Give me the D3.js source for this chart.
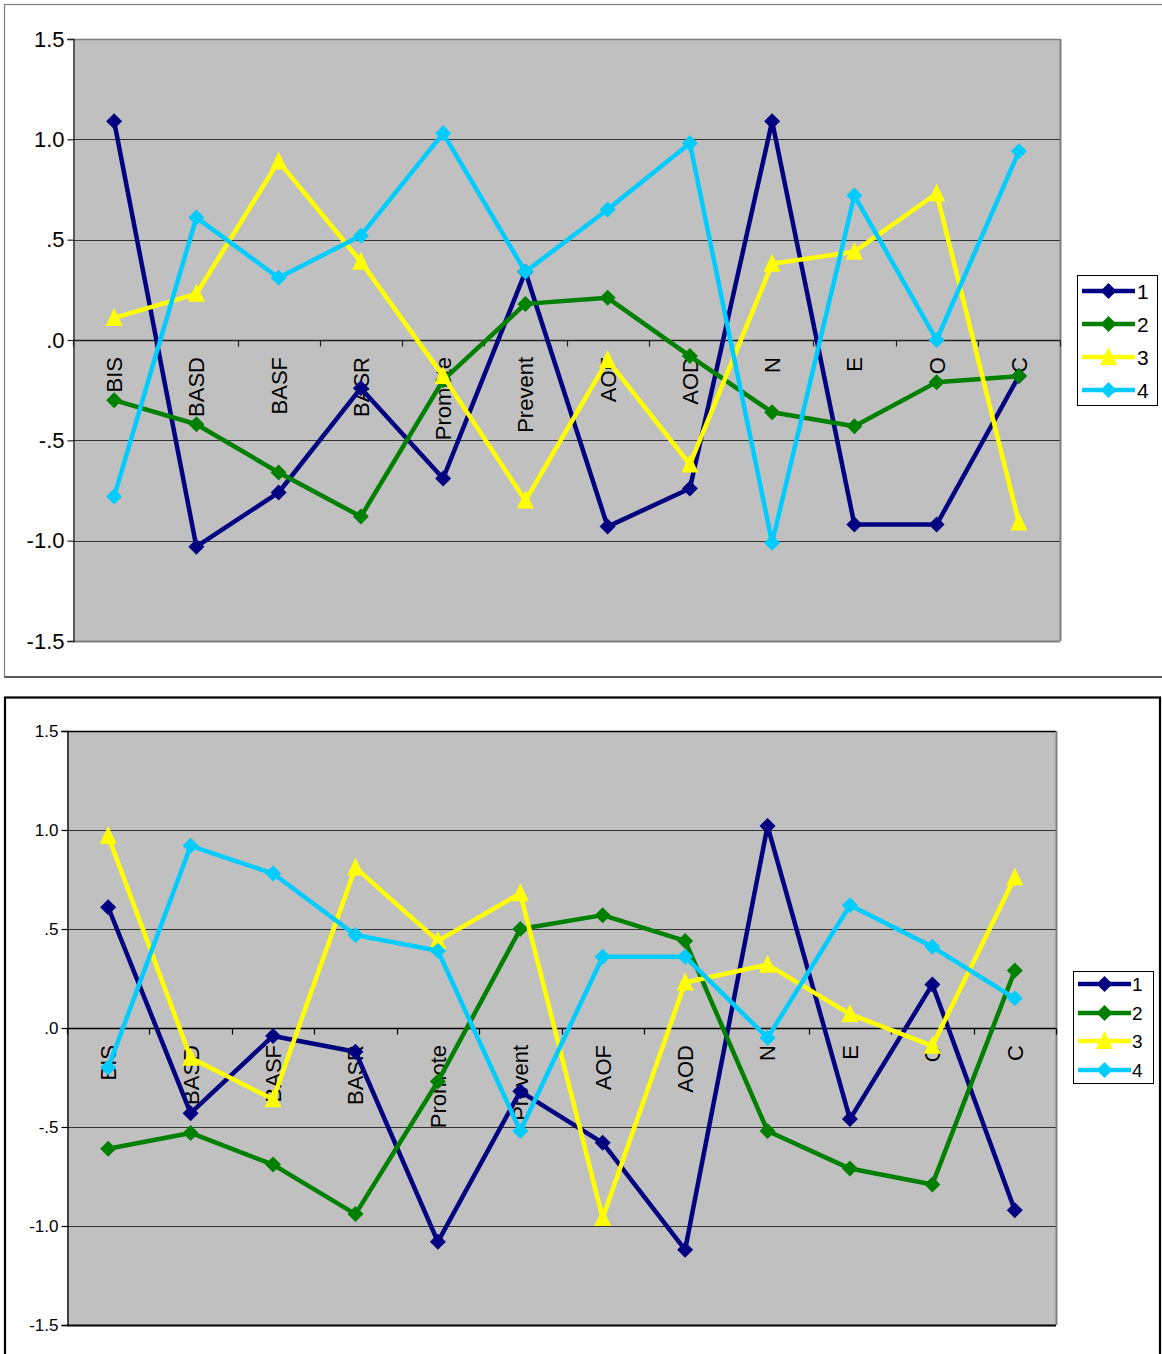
<!DOCTYPE html>
<html>
<head>
<meta charset="utf-8">
<script src="https://cdn.jsdelivr.net/npm/d3@7"></script>
<style>
  html, body { margin: 0; padding: 0; background: #ffffff; }
  svg { display: block; }
  text { font-family: "Liberation Sans", Arial, sans-serif; fill: #000; }
</style>
</head>
<body>
<svg id="page" width="1162" height="1354"></svg>
<script>
// Category axis and value axis
const categories = ["BIS", "BASD", "BASF", "BASR", "Promote", "Prevent", "AOF", "AOD", "N", "E", "O", "C"];
const yTickValues = [1.5, 1.0, 0.5, 0.0, -0.5, -1.0, -1.5];
const yTickLabels = ["1.5", "1.0", ".5", ".0", "-.5", "-1.0", "-1.5"];
const seriesNames = ["1", "2", "3", "4"];

// Upper chart profiles
const upperSeries1 = [1.09, -1.03, -0.76, -0.24, -0.69, 0.34, -0.93, -0.74, 1.09, -0.92, -0.92, -0.18];
const upperSeries2 = [-0.30, -0.42, -0.66, -0.88, -0.20, 0.18, 0.21, -0.08, -0.36, -0.43, -0.21, -0.18];
const upperSeries3 = [0.11, 0.23, 0.89, 0.39, -0.18, -0.80, -0.10, -0.62, 0.38, 0.44, 0.73, -0.91];
const upperSeries4 = [-0.78, 0.61, 0.31, 0.52, 1.03, 0.34, 0.65, 0.98, -1.01, 0.72, 0.00, 0.94];

// Lower chart profiles
const lowerSeries1 = [0.61, -0.43, -0.04, -0.12, -1.08, -0.32, -0.58, -1.12, 1.02, -0.46, 0.22, -0.92];
const lowerSeries2 = [-0.61, -0.53, -0.69, -0.94, -0.27, 0.50, 0.57, 0.44, -0.52, -0.71, -0.79, 0.29];
const lowerSeries3 = [0.97, -0.15, -0.36, 0.81, 0.44, 0.68, -0.96, 0.23, 0.32, 0.07, -0.09, 0.76];
const lowerSeries4 = [-0.20, 0.92, 0.78, 0.47, 0.39, -0.52, 0.36, 0.36, -0.05, 0.62, 0.41, 0.15];

// Series styling: colour and marker shape
const seriesStyle = [
  { color: "#000080", marker: "diamond" },
  { color: "#008000", marker: "diamond" },
  { color: "#FFFF00", marker: "triangle" },
  { color: "#00CCFF", marker: "diamond" }
];

const markerPath = {
  diamond: "M0,-8L8,0L0,8L-8,0Z",
  triangle: "M0,-10L8.5,8L-8.5,8Z"
};

const charts = [
  {
    values: [upperSeries1, upperSeries2, upperSeries3, upperSeries4],
    frame: { x: 4.5, y: 4.5, w: 1170, h: 672.5, color: "#808080", bottom: "#000", width: 1.2 },
    plot: { l: 73, t: 39, r: 1060, b: 641, frameColor: "#808080", axisColor: "#222" },
    tickFont: 22, catFont: 22, catOffset: 17,
    legend: { x: 1077.5, y: 275.5, w: 80, h: 130, rows: [291, 324, 357, 390], x1: 1082, x2: 1135, tx: 1137, font: 21 }
  },
  {
    values: [lowerSeries1, lowerSeries2, lowerSeries3, lowerSeries4],
    frame: { x: 5, y: 697.5, w: 1155, h: 700, color: "#000", bottom: "#000", width: 2.2 },
    plot: { l: 67, t: 731, r: 1056, b: 1325, frameColor: "#000", rightColor: "#808080", axisColor: "#000" },
    tickFont: 17, catFont: 22, catOffset: 17,
    legend: { x: 1073.5, y: 971.5, w: 80, h: 112, rows: [984, 1013, 1041, 1070], x1: 1078, x2: 1131, tx: 1132, font: 19 }
  }
];

const svg = d3.select("#page");

charts.forEach(cfg => {
  const g = svg.append("g");
  const f = cfg.frame, p = cfg.plot;

  // Outer chart frame
  g.append("rect")
    .attr("x", f.x).attr("y", f.y).attr("width", f.w).attr("height", f.h)
    .attr("fill", "#fff").attr("stroke", f.color).attr("stroke-width", f.width);
  g.append("line")
    .attr("x1", f.x).attr("x2", f.x + f.w).attr("y1", f.y + f.h).attr("y2", f.y + f.h)
    .attr("stroke", f.bottom).attr("stroke-width", f.width);

  const x = d3.scaleBand().domain(categories).range([p.l, p.r]).padding(0);
  const y = d3.scaleLinear().domain([-1.5, 1.5]).range([p.b, p.t]);
  const cx = c => x(c) + x.bandwidth() / 2;

  // Plot area background
  g.append("rect")
    .attr("x", p.l).attr("y", p.t).attr("width", p.r - p.l).attr("height", p.b - p.t)
    .attr("fill", "#C0C0C0");

  // Horizontal gridlines
  g.append("g").selectAll("line")
    .data(yTickValues.filter(v => Math.abs(v) !== 1.5 && v !== 0))
    .join("line")
    .attr("x1", p.l).attr("x2", p.r)
    .attr("y1", v => Math.round(y(v)) + 0.5).attr("y2", v => Math.round(y(v)) + 0.5)
    .attr("stroke", "#333").attr("stroke-width", 1.2);

  // Plot area border (top, right, bottom)
  const pb = g.append("g").attr("fill", "none");
  pb.append("line").attr("x1", p.l).attr("x2", p.r).attr("y1", p.t + 0.5).attr("y2", p.t + 0.5)
    .attr("stroke", p.frameColor).attr("stroke-width", 1.5);
  pb.append("line").attr("x1", p.r + 0.5).attr("x2", p.r + 0.5).attr("y1", p.t).attr("y2", p.b)
    .attr("stroke", p.rightColor || p.frameColor).attr("stroke-width", 2);
  pb.append("line").attr("x1", p.l).attr("x2", p.r).attr("y1", p.b + 0.5).attr("y2", p.b + 0.5)
    .attr("stroke", p.frameColor).attr("stroke-width", 2);

  // Value axis
  const yAxis = d3.axisLeft(y)
    .tickValues(yTickValues)
    .tickFormat((d, i) => yTickLabels[i])
    .tickSize(6).tickPadding(3);
  const ya = g.append("g").attr("transform", `translate(${p.l + 0.5},0)`).call(yAxis);
  ya.select(".domain").attr("stroke", p.axisColor).attr("stroke-width", 1.3);
  ya.selectAll(".tick line").attr("stroke", p.axisColor).attr("stroke-width", 1.2);
  ya.selectAll(".tick text")
    .attr("font-size", cfg.tickFont)
    .attr("font-family", "'Liberation Sans', Arial, sans-serif")
    .attr("fill", "#000");

  // Category axis along the zero line, with ticks between categories
  const y0 = Math.round(y(0)) + 0.5;
  g.append("line").attr("x1", p.l).attr("x2", p.r).attr("y1", y0).attr("y2", y0)
    .attr("stroke", p.axisColor).attr("stroke-width", 1.3);
  const bounds = categories.map(c => x(c)).concat([p.r]);
  g.append("g").selectAll("line").data(bounds).join("line")
    .attr("x1", d => Math.round(d) + 0.5).attr("x2", d => Math.round(d) + 0.5)
    .attr("y1", y0).attr("y2", y0 + 6)
    .attr("stroke", p.axisColor).attr("stroke-width", 1.2);

  // Rotated category labels hanging below the zero line
  g.append("g").selectAll("text").data(categories).join("text")
    .attr("transform", c => `translate(${cx(c)},${y(0) + cfg.catOffset}) rotate(-90)`)
    .attr("text-anchor", "end")
    .attr("dy", "0.36em")
    .attr("font-size", cfg.catFont)
    .text(c => c);

  // Series lines and markers
  const line = d3.line().x((d, i) => cx(categories[i])).y(d => y(d));
  cfg.values.forEach((vals, s) => {
    const st = seriesStyle[s];
    const sg = g.append("g");
    sg.append("path").datum(vals)
      .attr("d", line)
      .attr("fill", "none")
      .attr("stroke", st.color)
      .attr("stroke-width", 4.5)
      .attr("stroke-linejoin", "round");
    sg.selectAll("path.mk").data(vals).join("path")
      .attr("class", "mk")
      .attr("transform", (d, i) => `translate(${cx(categories[i])},${y(d)})`)
      .attr("d", markerPath[st.marker])
      .attr("fill", st.color);
  });

  // Legend
  const L = cfg.legend;
  const lg = g.append("g");
  lg.append("rect").attr("x", L.x).attr("y", L.y).attr("width", L.w).attr("height", L.h)
    .attr("fill", "#fff").attr("stroke", "#000").attr("stroke-width", 1);
  seriesNames.forEach((name, s) => {
    const st = seriesStyle[s];
    const ry = L.rows[s];
    lg.append("line").attr("x1", L.x1).attr("x2", L.x2).attr("y1", ry).attr("y2", ry)
      .attr("stroke", st.color).attr("stroke-width", 4.5);
    lg.append("path")
      .attr("transform", `translate(${(L.x1 + L.x2) / 2},${ry})`)
      .attr("d", markerPath[st.marker]).attr("fill", st.color);
    lg.append("text").attr("x", L.tx).attr("y", ry).attr("dy", "0.36em")
      .attr("font-size", L.font).text(name);
  });
});
</script>
</body>
</html>
